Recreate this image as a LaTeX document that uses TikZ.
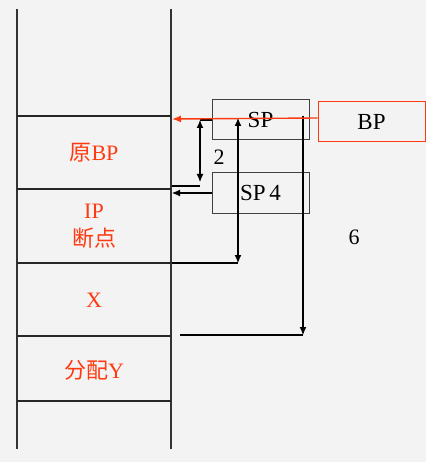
\documentclass[tikz,border=0pt]{standalone}
\usepackage{fontspec}
\setmainfont{Liberation Serif}
\newfontfamily\cjk{Noto Sans CJK SC}
\usetikzlibrary{arrows.meta}
\definecolor{redtxt}{HTML}{FF3A10}
\definecolor{bgc}{HTML}{F3F3F3}
\begin{document}
\begin{tikzpicture}[x=1pt,y=-1pt,
  stk/.style={line width=1.3pt,draw=black!80},
  cell/.style={line width=1.1pt,draw=black!85},
  lbl/.style={text=redtxt,font=\fontsize{22}{28}\selectfont,align=center},
  boxs/.style={draw=black!75,line width=1pt,minimum width=97pt,minimum height=40pt,inner sep=0pt,font=\fontsize{23}{24}\selectfont},
  arr/.style={line width=1.1pt,-{Latex[length=8pt,width=7pt]}},
  darr/.style={line width=1.1pt,{Latex[length=8pt,width=7pt]}-{Latex[length=8pt,width=7pt]}},
  ln/.style={line width=1.1pt}]
\fill[bgc] (0,0) rectangle (426,462);
\useasboundingbox (0,0) rectangle (426,462);
% stack walls
\coordinate (lt) at (17,9); \coordinate (lb) at (17,449);
\coordinate (rt) at (171,9); \coordinate (rb) at (171,449);
\draw[stk] (lt) -- (lb);
\draw[stk] (rt) -- (rb);
% cells
\foreach \yy in {116,189,263,336,401} \draw[cell] (17,\yy) -- (171,\yy);
\node[lbl] (c1) at (94,153) {{\cjk 原}BP};
\node[lbl] (c2) at (94,226) {IP\\{\cjk 断点}};
\node[lbl] (c3) at (94,300) {X};
\node[lbl] (c4) at (94,370) {{\cjk 分配}Y};
% boxes
\node[boxs] (sp) at (260.5,120) {SP};
\node[boxs] (sp4) at (260.5,193) {SP\,4};
\node[boxs,draw=redtxt,minimum width=107pt,minimum height=40pt] (bp) at (371.5,122) {BP};
% coordinates
\coordinate (a1) at (200,120);
\coordinate (a2) at (200,186);
\coordinate (r2) at (172,186);
\coordinate (t1) at (172,119);
\coordinate (s4t) at (172,193);
\coordinate (v1t) at (238,118);
\coordinate (v1b) at (238,263);
\coordinate (h1l) at (172,263);
\coordinate (v2t) at (303,116);
\coordinate (v2b) at (303,335);
\coordinate (h2l) at (180,335);
% "2" annotation
\draw[ln] (sp.west |- a1) -- (a1);
\draw[darr] (a1) -- (200,182);
\draw[ln] (a2) -- (r2);
\node[font=\fontsize{22}{24}\selectfont] (two) at (219,157) {2};
% SP4 arrow
\draw[arr] (sp4.west) -- (s4t);
% vertical arrows
\draw[darr] (v1t) -- (v1b);
\draw[ln] (h1l) -- (v1b);
\draw[arr] (v2t) -- (v2b);
\draw[ln] (h2l) -- (v2b);
\node[font=\fontsize{22}{24}\selectfont] (six) at (354,237) {6};
% red arrow
\draw[line width=1.4pt,draw=redtxt,-{Latex[length=9pt,width=7pt]}] (bp.west |- 0,118) -- (t1);
\end{tikzpicture}
\end{document}
